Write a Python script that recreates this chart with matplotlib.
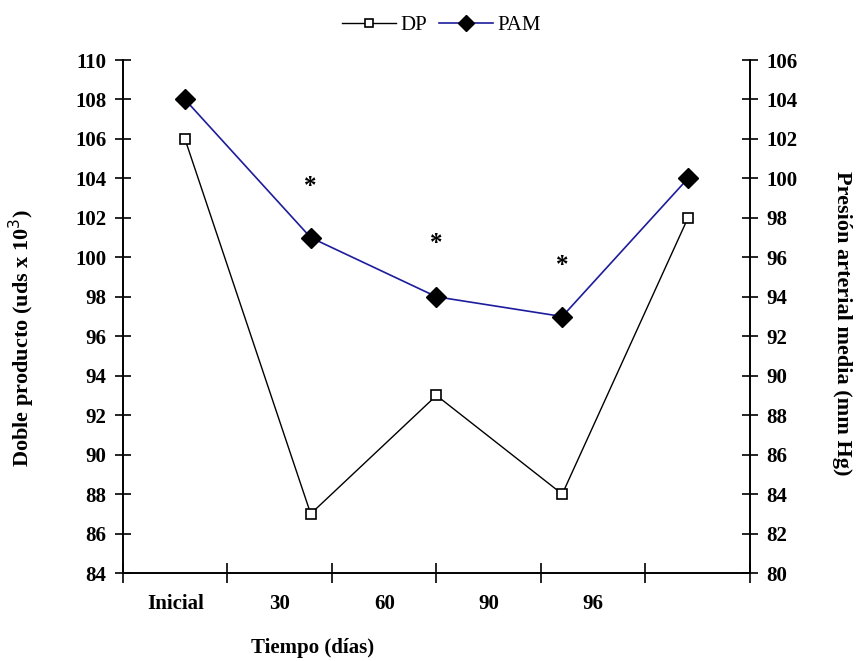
import numpy as np
import matplotlib.pyplot as plt

# datos
categorias = ['Inicial', '30', '60', '90', '96']
dp = [106, 87, 93, 88, 102]        # doble producto (eje izquierdo)
pam = [104, 97, 94, 93, 100]       # presion arterial media (eje derecho)
asteriscos = [1, 2, 3]             # puntos con diferencia significativa
ast_altura = [103.6, 100.7, 99.6]  # altura del * en escala izquierda

plt.rcParams['font.family'] = ['Liberation Serif', 'DejaVu Serif']

fig = plt.figure(figsize=(8.57, 6.61), dpi=100)
ax = fig.add_axes([0.1435, 0.1331, 0.7316, 0.7761])
ax2 = ax.twinx()

# las categorias y los puntos no estan alineados en el original
x_ticks = np.arange(0, 7)
x_lab = np.arange(len(categorias)) + 0.5
x_dat = 0.593 + 1.2035 * np.arange(len(categorias))

ax.plot(x_dat, dp, color='black', lw=1, marker='s', ms=7,
        mfc='white', mec='black', mew=1.2, label='DP', zorder=3)
ax2.plot(x_dat, pam, color='#1c1c9c', lw=1.2, marker='D', ms=10,
         mfc='black', mec='black', label='PAM', zorder=3)

for i, h in zip(asteriscos, ast_altura):
    ax.text(x_dat[i], h, '*', ha='center', va='center', fontsize=18,
            fontweight='bold')

ax.set_xlim(0, 6)
ax.set_ylim(84, 110)
ax2.set_ylim(80, 106)
ax.set_yticks(np.arange(84, 111, 2))
ax2.set_yticks(np.arange(80, 107, 2))
ax.set_xticks(x_ticks)
ax.set_xticklabels([])
ax.set_xticks(x_lab, minor=True)
ax.set_xticklabels(categorias, minor=True, fontsize=15, fontweight='bold')
ax.tick_params(axis='x', which='minor', length=0, pad=15)
ax.tick_params(axis='x', which='major', direction='inout', length=14, width=1.2)
ax.tick_params(axis='y', direction='inout', length=12, width=1.2, labelsize=15,
               pad=6)
ax2.tick_params(axis='y', direction='inout', length=12, width=1.2, labelsize=15,
                pad=6)
for t in ax.get_yticklabels() + ax2.get_yticklabels():
    t.set_fontweight('bold')

for a in (ax, ax2):
    a.spines['top'].set_visible(False)
    for s in ('left', 'right', 'bottom'):
        a.spines[s].set_linewidth(1.2)

ax.set_ylabel('Doble producto (uds x 10$^3$)', fontsize=16, fontweight='bold',
              va='center')
ax.yaxis.set_label_coords(-0.161, 0.458)
ax2.set_ylabel('Presión arterial media (mm Hg)', fontsize=16, fontweight='bold',
               rotation=270, va='center')
ax2.yaxis.set_label_coords(1.147, 0.487)
fig.text(0.365, 0.005, 'Tiempo (días)', fontsize=15, fontweight='bold',
         ha='center', va='bottom')

h1, l1 = ax.get_legend_handles_labels()
h2, l2 = ax2.get_legend_handles_labels()
fig.legend(h1 + h2, l1 + l2, loc='upper center', bbox_to_anchor=(0.515, 1.005),
           ncol=2, frameon=False, fontsize=15, handlelength=2.6,
           columnspacing=0.6, handletextpad=0.2, markerscale=0.8)

fig.savefig('out.png', dpi=100)
